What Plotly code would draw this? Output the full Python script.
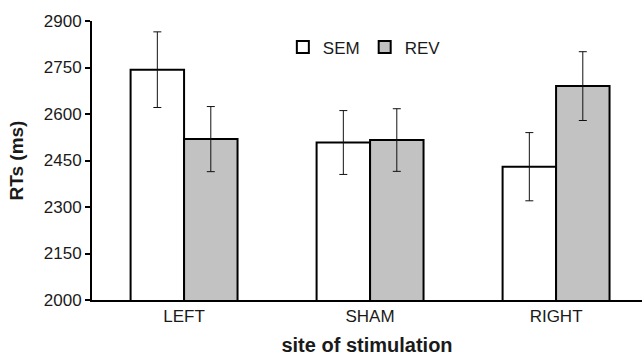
import plotly.graph_objects as go

categories = ["LEFT", "SHAM", "RIGHT"]
sem_values = [2743, 2508, 2430]
sem_errors = [122, 103, 110]
rev_values = [2519, 2516, 2690]
rev_errors = [105, 101, 111]
y_ticks = [2000, 2150, 2300, 2450, 2600, 2750, 2900]

font_family = "Liberation Sans, Arial, sans-serif"

fig = go.Figure()
fig.add_trace(go.Bar(
    x=categories, y=sem_values, name="SEM",
    marker=dict(color="white", line=dict(color="black", width=2)),
    error_y=dict(type="data", array=sem_errors, color="#111", thickness=1, width=4),
))
fig.add_trace(go.Bar(
    x=categories, y=rev_values, name="REV",
    marker=dict(color="#c2c2c2", line=dict(color="black", width=2)),
    error_y=dict(type="data", array=rev_errors, color="#111", thickness=1, width=4),
))

fig.update_layout(
    width=642, height=356,
    margin=dict(l=92, r=0, t=21, b=56, autoexpand=False),
    paper_bgcolor="white", plot_bgcolor="white",
    barmode="group", bargap=0.425, bargroupgap=0,
    font=dict(family=font_family, size=17, color="#1a1a1a"),
    showlegend=True,
    legend=dict(orientation="h", x=0.347, y=0.905, xanchor="left", yanchor="middle",
                font=dict(size=17, color="#1a1a1a"), bgcolor="rgba(0,0,0,0)",
                itemwidth=30, traceorder="normal"),
    xaxis=dict(
        range=[-0.495, 2.462], showline=True, linecolor="black", linewidth=2,
        ticks="", showgrid=False, zeroline=False, automargin=False,
        tickfont=dict(size=17, color="#1a1a1a"),
        title=dict(text="<b>site of stimulation</b>", font=dict(size=20, color="#1a1a1a"), standoff=15),
    ),
    yaxis=dict(
        range=[2000, 2900], tickvals=y_ticks, showline=True, linecolor="black", linewidth=2,
        ticks="outside", ticklen=5, tickwidth=2, tickcolor="black",
        showgrid=False, zeroline=False, automargin=False,
        tickfont=dict(size=17, color="#1a1a1a"),
        title=dict(text="<b>RTs (ms)</b>", font=dict(size=19, color="#1a1a1a"), standoff=15),
    ),
)

fig.write_html("out.html", config={"displayModeBar": False},
               post_script="document.body.style.margin='0';document.body.style.overflow='hidden';")
